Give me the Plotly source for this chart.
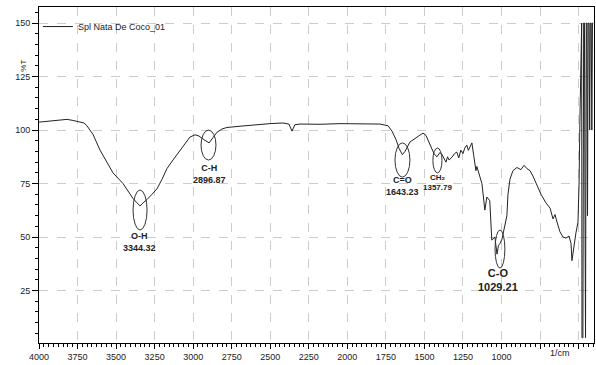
import plotly.graph_objects as go

# Spectrum (wavenumber, %T)
wavenumber = [4000, 3960, 3929, 3880, 3818, 3780, 3747, 3708, 3689, 3650, 3604, 3559, 3520, 3455,
              3390, 3364, 3344, 3325, 3300, 3267, 3235, 3202, 3170, 3131, 3085, 3053, 3021, 2988,
              2962, 2930, 2897, 2871, 2845, 2813, 2781, 2696, 2631, 2502, 2417, 2379, 2359, 2340,
              2307, 2177, 2048, 1918, 1788, 1736, 1710, 1684, 1665, 1643, 1626, 1594, 1561, 1535,
              1509, 1490, 1464, 1438, 1419, 1399, 1386, 1372, 1360, 1350, 1340, 1320, 1305, 1290,
              1277, 1264, 1250, 1238, 1225, 1215, 1205, 1192, 1180, 1172, 1166, 1160, 1140, 1127,
              1108, 1095, 1076, 1063, 1043, 1036, 1029, 1020, 1010, 997, 984, 965, 958, 945, 926,
              900, 874, 854, 835, 815, 796, 770, 744, 712, 685, 666, 653, 640, 621, 601, 582, 562,
              549, 543, 530, 517, 504, 497, 491, 484, 480, 478, 472, 467, 462, 458, 455, 450, 446,
              442, 438, 432, 428, 424, 418, 414, 410, 405]
transmittance = [103.7, 104.0, 104.2, 104.6, 105.0, 104.5, 104.0, 103.3, 102.0, 98.0, 90.6, 85.0, 80.0, 75.0,
                 68.0, 66.0, 64.5, 66.0, 67.5, 70.0, 72.5, 77.0, 82.0, 86.0, 90.6, 94.0, 96.7, 97.8,
                 97.2, 95.5, 94.0, 96.5, 99.0, 100.5, 101.2, 101.8, 102.3, 103.0, 103.3, 102.8, 99.5, 102.5,
                 102.8, 102.7, 103.0, 103.0, 102.8, 102.0, 99.5, 95.5, 91.5, 88.5, 90.0, 94.4, 96.0, 97.5,
                 98.6, 97.5, 93.0, 89.0, 87.5, 89.5, 88.5, 86.5, 85.0, 87.5, 86.0, 87.4, 89.0, 89.7,
                 87.0, 90.6, 89.0, 91.6, 93.0, 90.5, 92.0, 94.0, 88.0, 84.0, 81.0, 83.0, 78.0, 75.0,
                 62.6, 68.7, 67.0, 48.6, 50.0, 45.0, 42.0, 46.0, 47.0, 49.0, 53.0, 60.0, 70.0, 77.0, 81.0,
                 82.5, 81.5, 83.5, 82.0, 81.0, 78.5, 74.0, 70.0, 66.0, 63.5, 58.5, 60.5, 57.0, 52.5, 50.0, 49.5, 50.5,
                 47.0, 39.0, 47.0, 52.0, 57.0, 75.0, 106.0, 150.0, 150.0, 3.0, 3.0, 150.0, 150.0, 55.0, 3.0, 150.0, 150.0,
                 60.0, 150.0, 150.0, 100.0, 150.0, 150.0, 100.0, 150.0, 150.0]

# Band labels
band_names = ["O-H", "C-H", "C=O", "CH₂", "C-O"]
band_values = ["3344.32", "2896.87", "1643.23", "1357.79", "1029.21"]
band_label_x = [3345, 2897, 1645, 1412, 1023]
band_label_y = [47.6, 79.4, 74.0, 75.5, 30.0]
band_font = [9, 9, 9, 8, 11]
# Ellipses around bands: (wn_left, wn_right, T_top, T_bottom)
ellipse_wn = [(3390, 3299), (2949, 2852), (1691, 1594), (1445, 1386), (1042, 978)]
ellipse_t = [(72.0, 53.3), (100.0, 86.0), (94.0, 78.0), (91.6, 80.0), (53.3, 35.5)]

x_ticks = [4000, 3750, 3500, 3250, 3000, 2750, 2500, 2250, 2000, 1750, 1500, 1250, 1000, 750, 500]
x_ticktext = ["4000", "3750", "3500", "3250", "3000", "2750", "2500", "2250", "2000", "1750",
              "1500", "1250", "1000", "", ""]
y_ticks = [25, 50, 75, 100, 125, 150]

fig = go.Figure()
fig.add_trace(go.Scatter(x=wavenumber, y=transmittance, mode="lines",
                         line=dict(color="#222222", width=1),
                         name="Spl Nata De Coco_01", showlegend=True))

for (x0, x1), (y0, y1) in zip(ellipse_wn, ellipse_t):
    fig.add_shape(type="circle", xref="x", yref="y", x0=x0, x1=x1, y0=y0, y1=y1,
                  line=dict(color="#333333", width=1))

for name, val, x, y, fs in zip(band_names, band_values, band_label_x, band_label_y, band_font):
    fig.add_annotation(x=x, y=y, xref="x", yref="y", text=f"<b>{name}<br>{val}</b>",
                       showarrow=False, font=dict(family="Liberation Sans", size=fs, color="#222222"))

fig.add_annotation(x=620, y=0, xref="x", yref="paper", yanchor="top", yshift=-3,
                   text="1/cm", showarrow=False,
                   font=dict(family="Liberation Sans", size=9, color="#222222"))
fig.add_annotation(x=-0.04, y=0.85, xref="paper", yref="paper", text="%T", textangle=-90,
                   showarrow=False, font=dict(family="Liberation Sans", size=8, color="#222222"))

fig.update_layout(
    width=596, height=365,
    margin=dict(l=39, r=2, t=7, b=22),
    paper_bgcolor="white", plot_bgcolor="white",
    font=dict(family="Liberation Sans", size=9, color="#222222"),
    legend=dict(x=-0.002, y=0.985, xanchor="left", yanchor="top", bgcolor="rgba(0,0,0,0)",
                font=dict(size=9), itemwidth=30, tracegroupgap=0),
    xaxis=dict(range=[4000, 400], tickvals=x_ticks, ticktext=x_ticktext,
               showline=True, linecolor="black", linewidth=1, mirror=True,
               ticks="outside", ticklen=5, tickcolor="black",
               showgrid=True, gridcolor="#cccccc", griddash="dash", gridwidth=1,
               minor=dict(dtick=31.25, tick0=4000, ticks="outside", ticklen=3, tickcolor="black", showgrid=False),
               zeroline=False, tickfont=dict(size=9)),
    yaxis=dict(range=[0.5, 157.5], tickvals=y_ticks,
               showline=True, linecolor="black", linewidth=1, mirror=True,
               ticks="outside", ticklen=6, tickcolor="black",
               showgrid=True, gridcolor="#cccccc", griddash="dash", gridwidth=1,
               minor=dict(dtick=5, tick0=0, ticks="outside", ticklen=3, tickcolor="black", showgrid=False),
               zeroline=False, tickfont=dict(size=9)),
)

fig.write_html("out.html")
